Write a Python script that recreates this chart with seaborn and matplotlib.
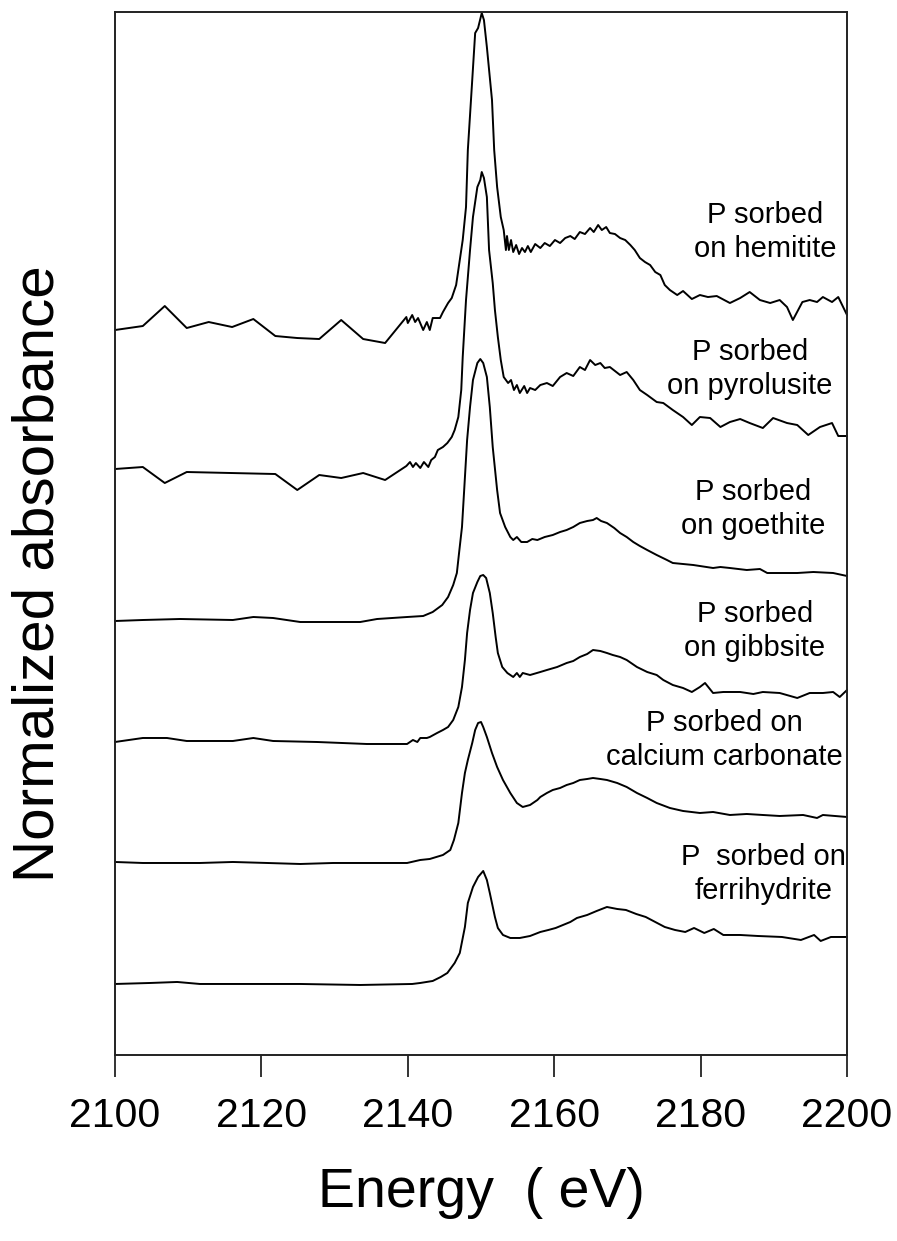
import matplotlib
matplotlib.use("Agg")
import matplotlib.pyplot as plt
import numpy as np
import pandas as pd
import seaborn as sns

# P K-edge XANES spectra (energy in eV, absorbance relative to pre-edge baseline)
energy_hem = [2100.0, 2103.8, 2106.8, 2109.8, 2112.8, 2116.0, 2118.9, 2121.9, 2124.9, 2127.9,
              2130.9, 2133.9, 2136.9, 2139.8, 2140.0, 2140.6, 2141.0, 2141.4, 2142.1, 2142.6,
              2143.0, 2143.4, 2144.4, 2144.8, 2145.5, 2146.0, 2146.6, 2147.0, 2147.5, 2147.95,
              2148.2, 2148.8, 2149.2, 2149.6, 2150.1, 2150.4, 2150.8, 2151.5, 2151.8, 2152.2,
              2152.7, 2153.1, 2153.4, 2153.55, 2153.8, 2154.1, 2154.4, 2154.8, 2155.2, 2155.6,
              2156.0, 2156.4, 2156.8, 2157.4, 2158.1, 2158.7, 2159.4, 2160.1, 2160.8, 2161.5,
              2162.2, 2162.8, 2163.5, 2164.2, 2164.9, 2165.4, 2166.0, 2166.5, 2167.1, 2167.6,
              2168.3, 2169.0, 2169.7, 2170.4, 2171.0, 2171.7, 2172.4, 2173.1, 2173.8, 2174.5,
              2175.1, 2175.8, 2176.8, 2177.6, 2178.8, 2179.9, 2181.0, 2182.2, 2184.0, 2185.4,
              2186.7, 2188.1, 2189.5, 2190.8, 2191.8, 2192.6, 2193.9, 2194.9, 2195.9, 2196.7,
              2197.95, 2198.8, 2200.0]
absorb_hem = [0.00, 0.04, 0.24, 0.02, 0.08, 0.03, 0.11, -0.06, -0.08, -0.09,
              0.10, -0.09, -0.13, 0.13, 0.07, 0.15, 0.08, 0.12, 0.00, 0.08,
              0.00, 0.12, 0.12, 0.18, 0.27, 0.32, 0.45, 0.65, 0.90, 1.23,
              1.80, 2.50, 2.97, 3.02, 3.17, 3.10, 2.83, 2.30, 1.80, 1.43,
              1.13, 1.00, 0.80, 0.94, 0.80, 0.90, 0.78, 0.85, 0.76, 0.82,
              0.78, 0.84, 0.78, 0.86, 0.82, 0.87, 0.84, 0.90, 0.87, 0.92,
              0.94, 0.91, 0.98, 0.96, 1.02, 0.98, 1.05, 1.00, 1.03, 0.97,
              0.96, 0.92, 0.90, 0.85, 0.80, 0.72, 0.68, 0.65, 0.58, 0.55,
              0.45, 0.40, 0.35, 0.39, 0.31, 0.35, 0.33, 0.34, 0.27, 0.32,
              0.38, 0.30, 0.27, 0.30, 0.23, 0.10, 0.28, 0.30, 0.28, 0.33,
              0.28, 0.33, 0.15]

energy_pyr = [2100.0, 2103.8, 2106.8, 2109.8, 2121.9, 2124.9, 2127.9, 2130.9, 2133.9, 2136.9,
              2139.8, 2140.3, 2140.7, 2141.1, 2141.7, 2142.2, 2142.8, 2143.2, 2143.7, 2144.1,
              2144.8, 2145.4, 2146.0, 2146.4, 2146.9, 2147.3, 2147.5, 2147.95, 2148.5, 2148.9,
              2149.5, 2149.9, 2150.1, 2150.4, 2150.8, 2151.1, 2151.6, 2151.9, 2152.3, 2152.7,
              2153.1, 2153.7, 2154.1, 2154.5, 2154.9, 2155.3, 2155.9, 2156.3, 2156.7, 2157.4,
              2158.1, 2159.0, 2159.8, 2160.8, 2161.7, 2162.6, 2163.5, 2164.2, 2164.9, 2165.6,
              2166.3, 2166.9, 2167.6, 2169.0, 2169.9, 2170.8, 2171.7, 2172.7, 2174.0, 2174.9,
              2176.2, 2177.6, 2178.8, 2179.9, 2181.3, 2182.7, 2184.0, 2185.4, 2186.7, 2188.5,
              2189.9, 2191.8, 2193.2, 2194.7, 2196.3, 2197.95, 2198.8, 2200.0]
absorb_pyr = [0.00, 0.02, -0.14, -0.03, -0.05, -0.21, -0.06, -0.09, -0.04, -0.11,
              0.03, 0.07, 0.02, 0.06, 0.01, 0.07, 0.02, 0.09, 0.12, 0.19,
              0.22, 0.26, 0.32, 0.39, 0.52, 0.79, 1.12, 1.69, 2.19, 2.52,
              2.82, 2.89, 2.97, 2.91, 2.72, 2.19, 1.86, 1.59, 1.32, 1.09,
              0.92, 0.86, 0.89, 0.79, 0.84, 0.76, 0.83, 0.76, 0.81, 0.79,
              0.84, 0.86, 0.83, 0.92, 0.96, 0.93, 1.02, 0.99, 1.09, 1.04,
              1.06, 1.01, 1.02, 0.94, 0.97, 0.89, 0.79, 0.74, 0.67, 0.66,
              0.59, 0.52, 0.44, 0.52, 0.51, 0.42, 0.47, 0.50, 0.46, 0.41,
              0.51, 0.46, 0.44, 0.34, 0.42, 0.46, 0.33, 0.33]

energy_goe = [2100.0, 2103.8, 2108.9, 2116.1, 2118.9, 2121.6, 2125.3, 2128.0, 2133.5, 2135.8,
              2139.9, 2142.1, 2143.4, 2144.7, 2145.5, 2146.2, 2146.7, 2147.0, 2147.4, 2147.7,
              2148.1, 2148.5, 2148.9, 2149.5, 2149.9, 2150.3, 2150.8, 2151.2, 2151.6, 2152.2,
              2152.6, 2153.3, 2154.0, 2154.4, 2154.9, 2155.5, 2156.3, 2157.0, 2157.7, 2158.7,
              2159.8, 2160.8, 2161.7, 2162.6, 2163.5, 2164.5, 2165.3, 2165.8, 2166.4, 2167.2,
              2168.2, 2169.0, 2169.9, 2170.8, 2171.7, 2172.7, 2174.0, 2175.4, 2176.2, 2179.0,
              2181.7, 2182.7, 2184.0, 2186.3, 2188.1, 2189.1, 2193.2, 2195.4, 2198.1, 2200.0]
absorb_goe = [0.00, 0.01, 0.02, 0.01, 0.04, 0.03, -0.01, -0.01, -0.01, 0.02,
              0.04, 0.05, 0.09, 0.16, 0.24, 0.36, 0.48, 0.68, 0.94, 1.31,
              1.81, 2.14, 2.41, 2.58, 2.62, 2.58, 2.44, 2.14, 1.74, 1.31,
              1.08, 0.94, 0.84, 0.81, 0.84, 0.79, 0.79, 0.82, 0.81, 0.84,
              0.86, 0.89, 0.91, 0.94, 0.98, 1.00, 1.01, 1.03, 1.00, 0.98,
              0.93, 0.88, 0.84, 0.79, 0.75, 0.71, 0.66, 0.61, 0.58, 0.56,
              0.53, 0.54, 0.53, 0.51, 0.52, 0.48, 0.48, 0.49, 0.48, 0.45]

energy_gib = [2100.0, 2103.8, 2107.1, 2109.8, 2116.1, 2118.9, 2121.6, 2127.6, 2134.4, 2139.9,
              2140.7, 2141.3, 2141.7, 2142.6, 2143.0, 2144.0, 2144.8, 2145.5, 2146.2, 2146.9,
              2147.4, 2147.8, 2148.1, 2148.5, 2148.9, 2149.5, 2149.9, 2150.3, 2150.7, 2151.2,
              2151.6, 2152.0, 2152.3, 2152.9, 2153.6, 2154.4, 2154.9, 2155.3, 2155.7, 2156.7,
              2158.1, 2159.0, 2160.4, 2161.7, 2162.6, 2163.5, 2164.5, 2165.3, 2166.3, 2167.2,
              2168.0, 2169.0, 2169.9, 2171.3, 2172.7, 2174.0, 2174.9, 2176.2, 2177.6, 2178.8,
              2179.9, 2180.6, 2181.7, 2183.1, 2185.4, 2187.2, 2188.5, 2190.8, 2193.2, 2194.9,
              2196.7, 2198.1, 2199.0, 2200.0]
absorb_gib = [0.00, 0.04, 0.04, 0.01, 0.01, 0.04, 0.01, 0.00, -0.02, -0.02,
              0.02, 0.00, 0.04, 0.04, 0.05, 0.09, 0.12, 0.15, 0.22, 0.35,
              0.55, 0.82, 1.09, 1.32, 1.49, 1.60, 1.66, 1.67, 1.64, 1.49,
              1.29, 1.05, 0.89, 0.75, 0.69, 0.65, 0.69, 0.65, 0.69, 0.67,
              0.70, 0.72, 0.75, 0.79, 0.81, 0.85, 0.88, 0.92, 0.91, 0.89,
              0.87, 0.85, 0.82, 0.75, 0.70, 0.67, 0.62, 0.57, 0.54, 0.50,
              0.55, 0.59, 0.49, 0.50, 0.50, 0.48, 0.50, 0.49, 0.44, 0.49,
              0.49, 0.50, 0.45, 0.52]

energy_cal = [2100.0, 2103.8, 2111.6, 2116.1, 2120.8, 2125.3, 2129.8, 2134.4, 2139.9, 2141.7,
              2143.0, 2144.8, 2145.8, 2146.3, 2146.9, 2147.4, 2147.8, 2148.2, 2148.8, 2149.2,
              2149.6, 2150.0, 2150.3, 2150.8, 2151.5, 2152.2, 2153.0, 2154.0, 2154.9, 2155.7,
              2156.7, 2157.7, 2158.1, 2159.0, 2159.8, 2160.8, 2161.7, 2162.6, 2163.5, 2164.5,
              2165.3, 2166.3, 2167.2, 2168.6, 2169.9, 2171.3, 2172.7, 2174.0, 2175.8, 2177.6,
              2179.9, 2181.7, 2184.0, 2186.3, 2188.5, 2190.8, 2194.0, 2195.9, 2196.7, 2200.0]
absorb_cal = [0.00, -0.01, -0.01, 0.00, -0.01, -0.02, -0.01, -0.01, -0.01, 0.02,
              0.03, 0.07, 0.12, 0.22, 0.39, 0.69, 0.89, 1.02, 1.19, 1.32,
              1.39, 1.40, 1.35, 1.25, 1.09, 0.95, 0.82, 0.69, 0.59, 0.55,
              0.57, 0.62, 0.65, 0.69, 0.72, 0.74, 0.77, 0.79, 0.82, 0.83,
              0.84, 0.83, 0.82, 0.79, 0.75, 0.69, 0.64, 0.59, 0.54, 0.51,
              0.49, 0.50, 0.47, 0.48, 0.47, 0.46, 0.47, 0.44, 0.47, 0.45]

energy_fer = [2100.0, 2104.8, 2108.5, 2111.6, 2117.9, 2125.3, 2133.5, 2140.6, 2141.7, 2143.4,
              2144.5, 2145.4, 2146.4, 2147.1, 2147.8, 2148.2, 2148.9, 2149.6, 2150.3, 2150.8,
              2151.2, 2151.9, 2152.3, 2153.0, 2154.0, 2155.3, 2156.7, 2158.1, 2159.2, 2160.2,
              2161.2, 2162.2, 2163.1, 2164.5, 2165.8, 2167.2, 2168.6, 2169.8, 2171.2, 2172.5,
              2173.8, 2175.1, 2176.5, 2177.9, 2179.1, 2180.5, 2181.8, 2183.1, 2185.4, 2187.8,
              2191.1, 2193.7, 2195.5, 2196.4, 2197.8, 2200.0]
absorb_fer = [0.00, 0.01, 0.02, 0.00, 0.00, 0.00, -0.01, 0.00, 0.01, 0.03,
              0.07, 0.11, 0.21, 0.31, 0.57, 0.81, 0.97, 1.07, 1.13, 1.04,
              0.91, 0.67, 0.56, 0.49, 0.46, 0.46, 0.48, 0.52, 0.54, 0.56,
              0.59, 0.62, 0.66, 0.69, 0.73, 0.77, 0.75, 0.74, 0.70, 0.67,
              0.62, 0.57, 0.54, 0.52, 0.56, 0.51, 0.55, 0.49, 0.49, 0.48,
              0.47, 0.44, 0.49, 0.43, 0.47, 0.47]

sample_labels = ["P sorbed\non hemitite", "P sorbed\non pyrolusite", "P sorbed\non goethite",
                 "P sorbed\non gibbsite", "P sorbed on\ncalcium carbonate", "P  sorbed on\nferrihydrite"]
stack_offsets = [7.25, 5.86, 4.34, 3.13, 1.93, 0.71]
label_energy = [2188.8, 2186.7, 2187.2, 2187.4, 2183.2, 2188.6]
label_height = [8.23, 6.86, 5.46, 4.24, 3.15, 1.81]
x_ticks = [2100, 2120, 2140, 2160, 2180, 2200]

spectra = [(energy_hem, absorb_hem), (energy_pyr, absorb_pyr), (energy_goe, absorb_goe),
           (energy_gib, absorb_gib), (energy_cal, absorb_cal), (energy_fer, absorb_fer)]

frames = []
for name, (e, a), off in zip(sample_labels, spectra, stack_offsets):
    frames.append(pd.DataFrame({"energy": e, "signal": np.asarray(a) + off, "sample": name}))
data = pd.concat(frames, ignore_index=True)

sns.set_style("ticks")
plt.rcParams["font.family"] = ["Liberation Sans", "DejaVu Sans"]
plt.rcParams["text.color"] = "black"
plt.rcParams["axes.labelcolor"] = "black"
plt.rcParams["xtick.color"] = "black"

fig = plt.figure(figsize=(8.97, 12.41), dpi=100)
ax = fig.add_axes([0.1282, 0.1499, 0.8161, 0.8404])

sns.lineplot(data=data, x="energy", y="signal", units="sample", estimator=None,
             sort=False, color="black", linewidth=1.4, ax=ax, legend=False)
for line in ax.get_lines():
    line.set_clip_on(False)

for txt, xe, yh in zip(sample_labels, label_energy, label_height):
    ax.text(xe, yh, txt, ha="center", va="center", fontsize=21, linespacing=1.3,
            color="black")

ax.set_xlim(2100, 2200)
ax.set_ylim(0, 10.43)
ax.set_xticks(x_ticks)
ax.set_yticks([])
ax.tick_params(axis="x", direction="out", length=16, width=1.4, color="#333333",
               labelsize=29.5, pad=14, labelcolor="black")
for sp in ax.spines.values():
    sp.set_linewidth(1.4)
    sp.set_color("#222222")
    sp.set_visible(True)

ax.set_xlabel("Energy  ( eV)", fontsize=40, labelpad=23, color="black")
ax.set_ylabel("")
fig.text(0.043, 0.5375, "Normalized absorbance", rotation=90, ha="center", va="center",
         fontsize=42, color="black")

fig.savefig("out.png", dpi=100)
